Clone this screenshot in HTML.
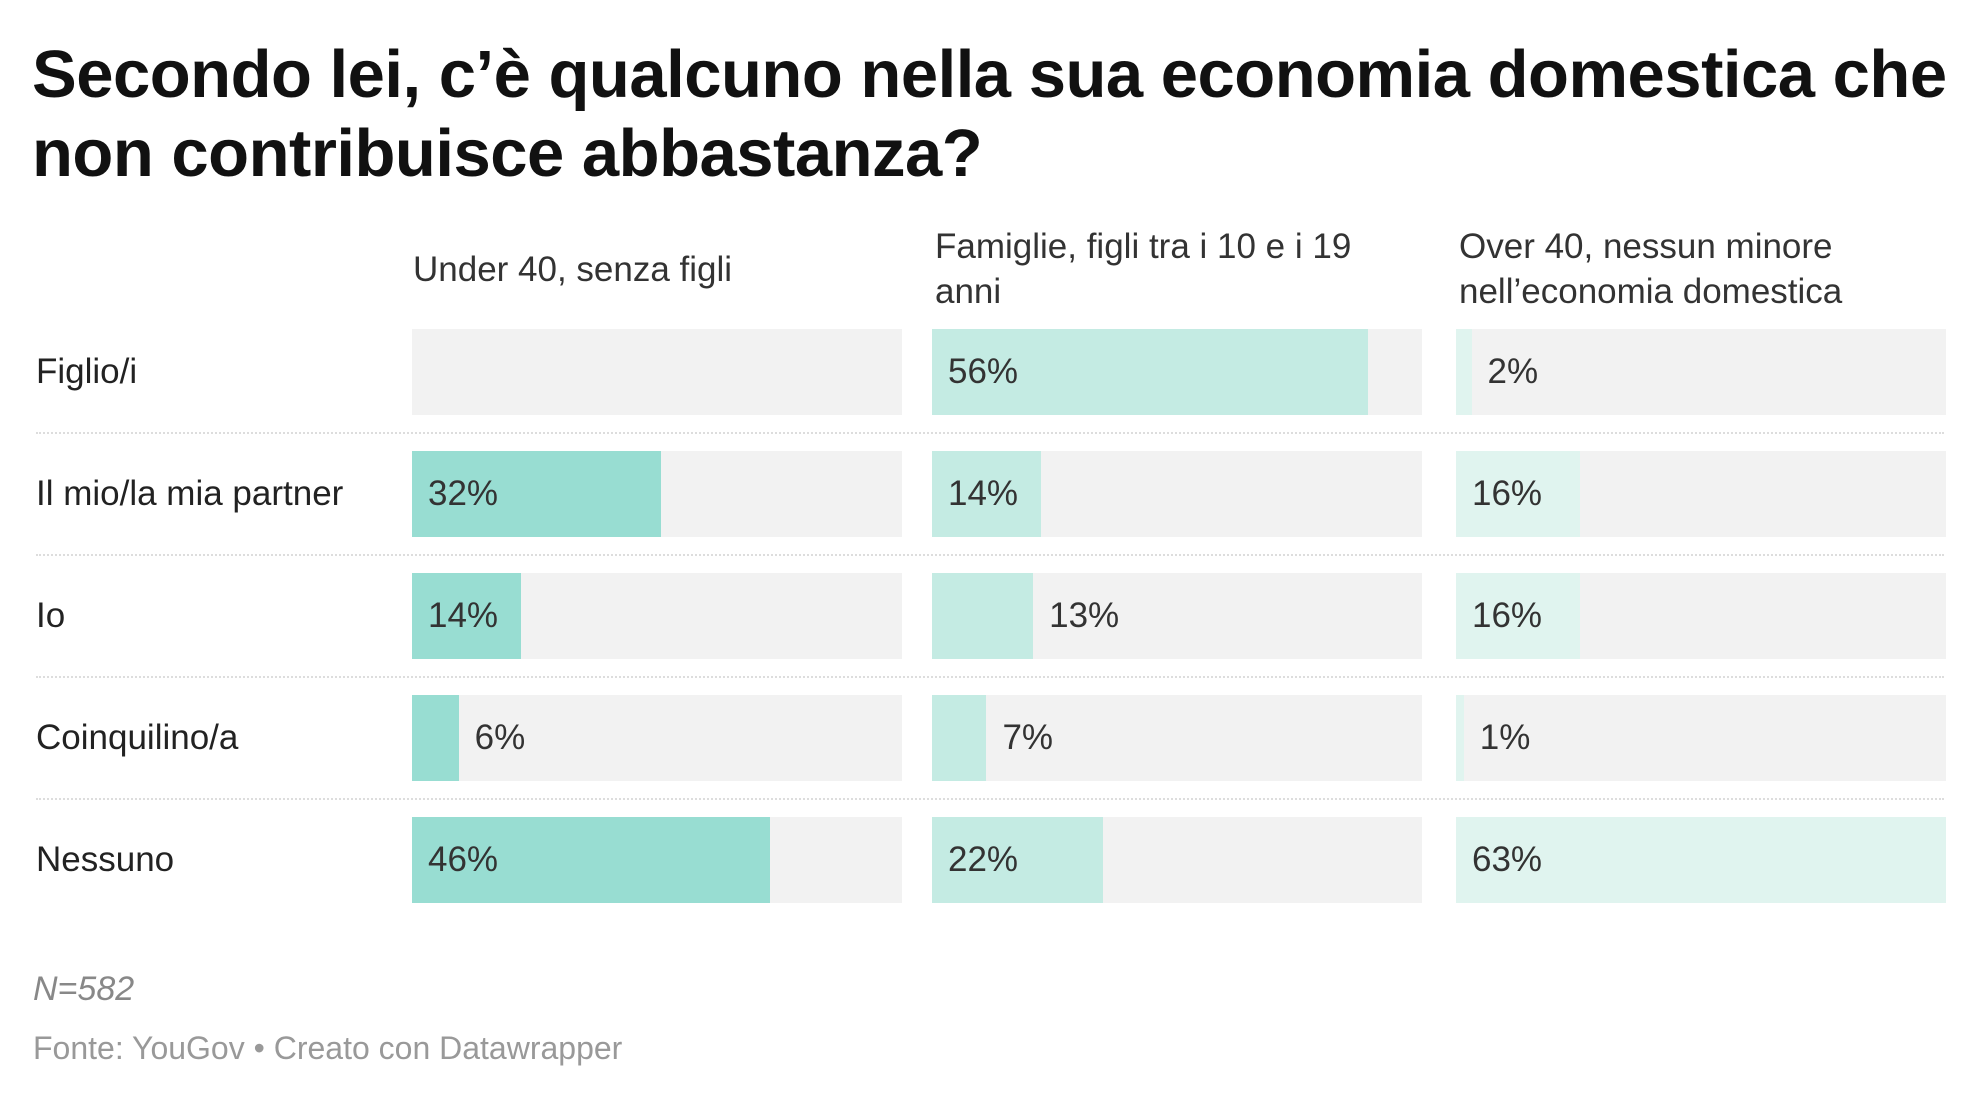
<!DOCTYPE html>
<html><head><meta charset="utf-8"><style>
body{margin:0;width:1980px;height:1099px;background:#fff;font-family:"Liberation Sans",sans-serif;position:relative;overflow:hidden;color:#222}
.a{position:absolute;white-space:nowrap}
.t{font-weight:bold;font-size:67px;letter-spacing:-0.5px;color:#111;left:32px}
.h{font-size:35px;color:#333;line-height:45px}
.lab{font-size:35px;color:#222;left:36px;line-height:86px}
.bg{position:absolute;background:#f2f2f2;height:86px}
.b{position:absolute;left:0;top:0;height:86px}
.v{position:absolute;font-size:35px;color:#333;line-height:86px;top:0}
.sep{position:absolute;left:36px;width:1908px;border-top:2px dotted #ddd}
</style></head><body>
<div class="a t" style="top:35px;line-height:79px">Secondo lei, c’è qualcuno nella sua economia domestica che<br>non contribuisce abbastanza?</div>
<div class="a h" style="left:413px;top:247px">Under 40, senza figli</div>
<div class="a h" style="left:935px;top:224px">Famiglie, figli tra i 10 e i 19<br>anni</div>
<div class="a h" style="left:1459px;top:224px">Over 40, nessun minore<br>nell’economia domestica</div>
<div id="c"></div>
<div class="a" style="left:33px;top:970px;font-size:34px;font-style:italic;color:#888">N=582</div>
<div class="a" style="left:33px;top:1030px;font-size:32px;color:#999">Fonte: YouGov • Creato con Datawrapper</div>
<script>
(function(){
var rows=["Figlio/i","Il mio/la mia partner","Io","Coinquilino/a","Nessuno"];
var data=[[0,56,2],[32,14,16],[14,13,16],[6,7,1],[46,22,63]];
var cols=[412,932,1456],W=490,cl=["#98ddd2","#c4ebe3","#e0f4ef"];
var h="";
for(var r=0;r<5;r++){var y=329+r*122;
h+='<div class="a lab" style="top:'+y+'px">'+rows[r]+'</div>';
if(r>0)h+='<div class="sep" style="top:'+(y-19)+'px"></div>';
for(var c=0;c<3;c++){var v=data[r][c],w=W*v/63;
h+='<div class="bg" style="left:'+cols[c]+'px;top:'+y+'px;width:'+W+'px">';
if(v>0){h+='<div class="b" style="width:'+w+'px;background:'+cl[c]+'"></div>';
var lx=w>105?16:w+16;h+='<div class="v" style="left:'+lx+'px">'+v+'%</div>';}
h+='</div>';}}
document.getElementById("c").innerHTML=h;
})();
</script>
</body></html>
